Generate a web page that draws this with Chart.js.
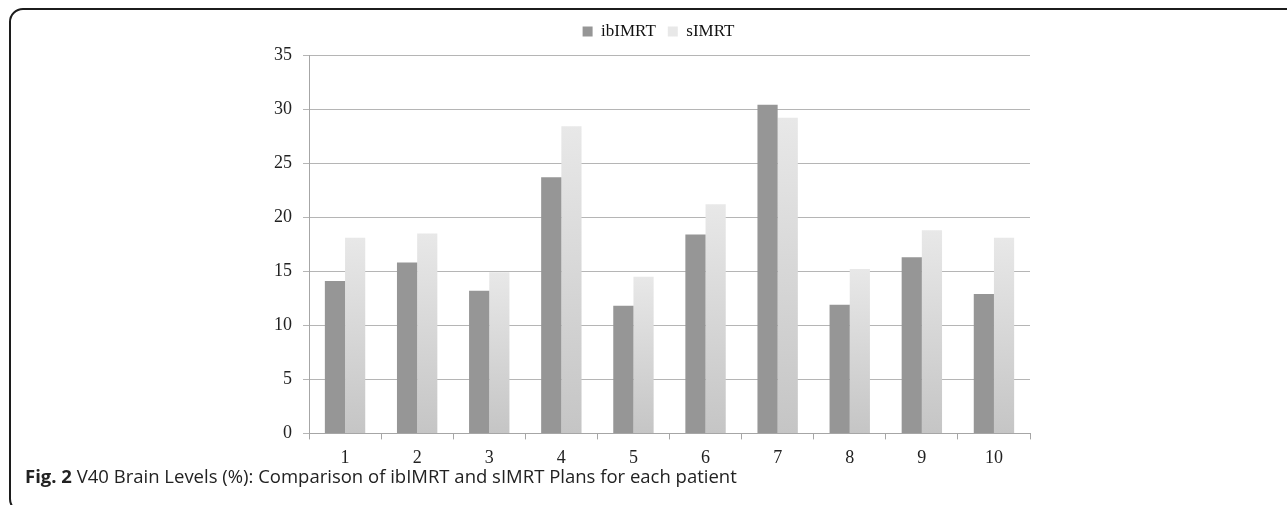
<!DOCTYPE html>
<html>
<head>
<meta charset="utf-8">
<script src="https://cdn.jsdelivr.net/npm/chart.js@4.4.0/dist/chart.umd.min.js"></script>
<style>
  html, body { margin: 0; padding: 0; background: #fff; overflow: hidden; }
  body { width: 1287px; height: 505px; position: relative; }
  #frame {
    position: absolute; left: 9px; top: 8px; width: 1310px; height: 505px;
    border: 2px solid #1c1c1c; border-radius: 14px; box-sizing: border-box;
  }
  #wrap { position: absolute; left: 0; top: 0; width: 1287px; height: 478px; }
  #cap {
    position: absolute; left: 25px; top: 465px;
    font-family: "Open Sans", "Noto Sans", sans-serif; font-size: 18.5px; line-height: 22px;
    color: #222; white-space: nowrap;
  }
  #cap b { font-weight: 700; }
</style>
</head>
<body>
<div id="frame"></div>
<div id="wrap"><canvas id="chartV40"></canvas></div>
<div id="cap"><b>Fig. 2</b> V40 Brain Levels (%): Comparison of ibIMRT and sIMRT Plans for each patient</div>
<script>
var patients = ["1", "2", "3", "4", "5", "6", "7", "8", "9", "10"];
var ibIMRT = [14.1, 15.8, 13.2, 23.7, 11.8, 18.4, 30.4, 11.9, 16.3, 12.9];
var sIMRT = [18.1, 18.5, 14.9, 28.4, 14.5, 21.2, 29.2, 15.2, 18.8, 18.1];
var yTicks = [0, 5, 10, 15, 20, 25, 30, 35];

var serif = "'Liberation Serif', 'DejaVu Serif', serif";

// light bars fade from top to bottom
function lightFill(ctx) {
  var chart = ctx.chart;
  if (!chart.chartArea || ctx.raw === undefined) return '#d9d9d9';
  var y = chart.scales.y;
  var top = y.getPixelForValue(ctx.raw);
  var g = chart.ctx.createLinearGradient(0, top, 0, y.getPixelForValue(0));
  g.addColorStop(0, '#e8e8e8');
  g.addColorStop(1, '#c5c5c5');
  return g;
}

// legend: a bit more room under it, and nudged right like the original
var legendTweak = {
  id: 'legendTweak',
  afterInit: function(chart) {
    var lg = chart.legend;
    var fit = lg.fit;
    var draw = lg.draw;
    lg.fit = function() { fit.call(this); this.height += 5; };
    lg.draw = function() {
      var c = this.ctx;
      c.save();
      c.translate(12, 0);
      draw.apply(this, arguments);
      c.restore();
    };
  }
};

var densityCanvas = document.getElementById("chartV40");

var barChart = new Chart(densityCanvas, {
  type: 'bar',
  data: {
    labels: patients,
    datasets: [
      { label: 'ibIMRT', data: ibIMRT, backgroundColor: '#969696', borderWidth: 0 },
      { label: 'sIMRT', data: sIMRT, backgroundColor: lightFill, borderWidth: 0 }
    ]
  },
  options: {
    responsive: true,
    maintainAspectRatio: false,
    animation: false,
    layout: { padding: { left: 263, right: 257, top: 11, bottom: 1 } },
    datasets: { bar: { categoryPercentage: 0.56, barPercentage: 1.0 } },
    plugins: {
      legend: {
        position: 'top',
        labels: {
          boxWidth: 10, boxHeight: 10, padding: 12,
          color: '#111', font: { family: serif, size: 17 }
        }
      },
      tooltip: { enabled: false }
    },
    scales: {
      x: {
        grid: { display: true, drawOnChartArea: false, drawTicks: true, tickLength: 6, color: '#a6a6a6', offset: true },
        border: { color: '#a6a6a6', width: 1 },
        ticks: { color: '#222', padding: 8, font: { family: serif, size: 18 } }
      },
      y: {
        min: 0, max: 35,
        afterBuildTicks: function(scale) { scale.ticks = yTicks.map(function(v) { return { value: v }; }); },
        grid: { color: '#b5b5b5', tickLength: 6, drawTicks: true },
        border: { color: '#a6a6a6', width: 1 },
        ticks: { color: '#222', padding: 11, font: { family: serif, size: 18 } }
      }
    }
  },
  plugins: [legendTweak]
});
</script>
</body>
</html>
